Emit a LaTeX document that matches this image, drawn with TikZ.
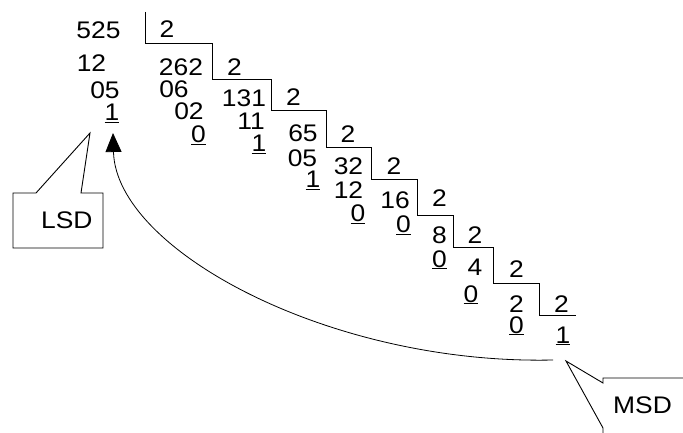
\documentclass[tikz,border=0pt]{standalone}
\usepackage{fontspec}
\setmainfont{Liberation Sans}
\usetikzlibrary{arrows.meta}
\newcommand{\tx}[1]{\scalebox{1.1}[1]{#1}}
\newcommand{\ul}[1]{\underline{#1}}
\tikzset{
  num/.style={inner sep=0pt, anchor=base, text height=17pt, text depth=2pt, font=\fontsize{24}{28}\selectfont},
  stair/.style={line width=0.9pt, line join=miter},
  callout/.style={line width=0.9pt, line join=miter},
  link/.style={line width=0.8pt, -{Triangle[length=19pt,width=16pt]}}
}
\begin{document}
\begin{tikzpicture}[x=1pt,y=-1pt]
\useasboundingbox (0,0) rectangle (683,433);
\begin{scope}
\clip (0,0) rectangle (683,433);
% stairs
\draw[stair] (145,12) -- (145,43) -- (212,43) -- (212,79) -- (271,79) -- (271,110)
  -- (326,110) -- (326,147) -- (371,147) -- (371,179) -- (417,179) -- (417,215)
  -- (453,215) -- (453,247) -- (493,247) -- (493,283) -- (539,283) -- (539,315) -- (576,315);
% column 1
\node[num] (n525) at (98.5,39) {\tx{525}};
\node[num] (d1) at (167,38) {\tx{2}};
\node[num] (r12a) at (91.5,72) {\tx{12}};
\node[num] (r05a) at (105,99) {\tx{05}};
\node[num] (lsd1) at (112,121) {\tx{\ul{1}}};
% column 2
\node[num] (n262) at (181,76) {\tx{262}};
\node[num] (d2) at (234.5,76) {\tx{2}};
\node[num] (r06) at (174,98) {\tx{06}};
\node[num] (r02) at (189,120) {\tx{02}};
\node[num] (b2) at (198.5,143) {\tx{\ul{0}}};
% column 3
\node[num] (n131) at (244,107) {\tx{131}};
\node[num] (d3) at (293.5,106) {\tx{2}};
\node[num] (r11) at (251,130) {\tx{11}};
\node[num] (b3) at (259,152) {\tx{\ul{1}}};
% column 4
\node[num] (n65) at (303,142) {\tx{65}};
\node[num] (d4) at (348,143) {\tx{2}};
\node[num] (r05b) at (302.5,167) {\tx{05}};
\node[num] (b4) at (313,188) {\tx{\ul{1}}};
% column 5
\node[num] (n32) at (348.5,175) {\tx{32}};
\node[num] (d5) at (394,175) {\tx{2}};
\node[num] (r12b) at (348.5,198) {\tx{12}};
\node[num] (b5) at (358,222) {\tx{\ul{0}}};
% column 6
\node[num] (n16) at (395,208) {\tx{16}};
\node[num] (d6) at (439.5,207) {\tx{2}};
\node[num] (b6) at (403.5,233) {\tx{\ul{0}}};
% column 7
\node[num] (n8) at (439.5,243) {\tx{8}};
\node[num] (d7) at (475,243) {\tx{2}};
\node[num] (b7) at (439.5,267) {\tx{\ul{0}}};
% column 8
\node[num] (n4) at (475,275) {\tx{4}};
\node[num] (d8) at (516.5,277) {\tx{2}};
\node[num] (b8) at (471,302) {\tx{\ul{0}}};
% column 9
\node[num] (n2) at (516.5,312) {\tx{2}};
\node[num] (d9) at (561.5,312) {\tx{2}};
\node[num] (b9) at (516.5,333) {\tx{\ul{0}}};
\node[num] (msd1) at (563,343) {\tx{\ul{1}}};
% LSD callout
\draw[callout] (13,193) -- (36,193) -- (90,133) -- (81,193) -- (103,193) -- (103,248) -- (13,248) -- cycle;
\node[num, anchor=base west] (lsd) at (41,228) {\tx{LSD}};
% MSD callout
\draw[callout] (603,440) -- (603,428) -- (566,361) -- (603,383) -- (603,378) -- (700,378);
\node[num, anchor=base west] (msd) at (613,413) {\tx{MSD}};
% connector
\coordinate (cs) at (553,360);
\coordinate (ce) at (113,133);
\draw[link] (cs) .. controls (330,365) and (116,250) .. (ce);
\end{scope}
\end{tikzpicture}
\end{document}
